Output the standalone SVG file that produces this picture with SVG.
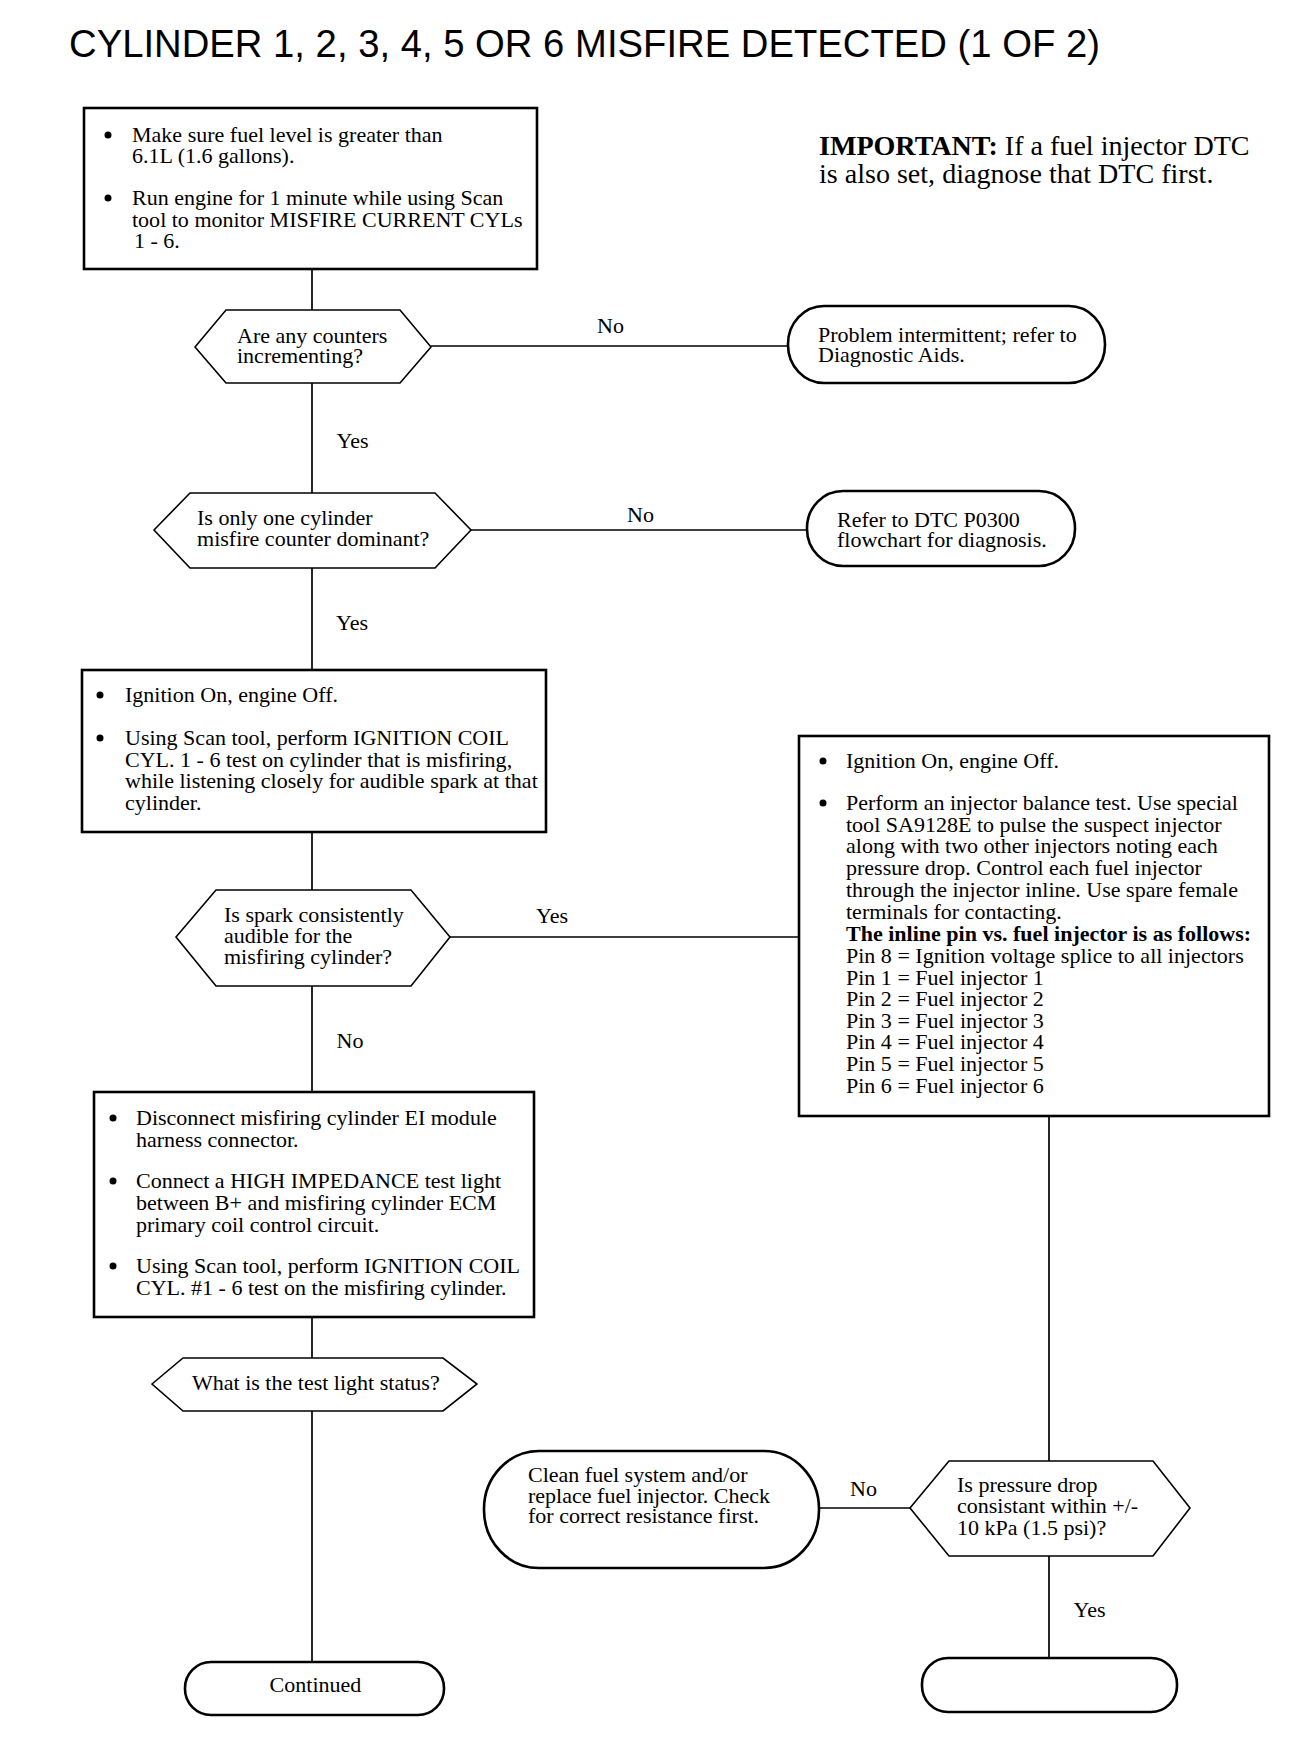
<svg xmlns="http://www.w3.org/2000/svg" width="1312" height="1742" viewBox="0 0 1312 1742">
<style>
.box{fill:#fff;stroke:#000;stroke-width:2.6}
.hex{fill:#fff;stroke:#000;stroke-width:1.6}
.term{fill:#fff;stroke:#000;stroke-width:2.6}
.conn{stroke:#000;stroke-width:1.7;fill:none}
.t{font-family:"Liberation Serif","Times New Roman",serif;font-size:20.5px;fill:#000}
.b{font-weight:bold}
.title{font-family:"Liberation Sans",Arial,sans-serif;font-size:39px;fill:#000}
.imp{font-family:"Liberation Serif","Times New Roman",serif;font-size:27px;fill:#000}
.dot{fill:#000}
</style>
<rect width="1312" height="1742" fill="#fff"/>
<text class="title" x="69" y="57" textLength="1031" lengthAdjust="spacingAndGlyphs">CYLINDER 1, 2, 3, 4, 5 OR 6 MISFIRE DETECTED (1 OF 2)</text>
<g id="important">
<g transform="scale(1.04 1)">
<text class="imp" x="787.5" y="155"><tspan font-weight="bold">IMPORTANT:</tspan> If a fuel injector DTC</text>
<text class="imp" x="787.5" y="183">is also set, diagnose that DTC first.</text>
</g>
</g>
<g id="connectors">
<line class="conn" x1="312" y1="269" x2="312" y2="310"/>
<line class="conn" x1="431" y1="346" x2="788" y2="346"/>
<line class="conn" x1="312" y1="383" x2="312" y2="493"/>
<line class="conn" x1="471" y1="530" x2="807" y2="530"/>
<line class="conn" x1="312" y1="568" x2="312" y2="670"/>
<line class="conn" x1="312" y1="832" x2="312" y2="890"/>
<line class="conn" x1="450" y1="937" x2="799" y2="937"/>
<line class="conn" x1="312" y1="986" x2="312" y2="1092"/>
<line class="conn" x1="312" y1="1317" x2="312" y2="1358"/>
<line class="conn" x1="312" y1="1411" x2="312" y2="1662"/>
<line class="conn" x1="1049" y1="1116" x2="1049" y2="1461"/>
<line class="conn" x1="910" y1="1508" x2="819" y2="1508"/>
<line class="conn" x1="1049" y1="1556" x2="1049" y2="1658"/>
<g transform="scale(1.075 1)">
<text class="t" x="555.35" y="333">No</text>
<text class="t" x="313.02" y="448">Yes</text>
<text class="t" x="583.26" y="522">No</text>
<text class="t" x="312.56" y="630">Yes</text>
<text class="t" x="498.6" y="923">Yes</text>
<text class="t" x="313.02" y="1048">No</text>
<text class="t" x="790.7" y="1496">No</text>
<text class="t" x="998.6" y="1617">Yes</text>
</g>
</g>
<g id="box1">
<rect class="box" x="84" y="108" width="453" height="161"/>
<circle class="dot" cx="108" cy="135" r="3.5"/>
<circle class="dot" cx="108" cy="198" r="3.5"/>
<g transform="scale(1.075 1)">
<text class="t" x="122.79" y="142">Make sure fuel level is greater than</text>
<text class="t" x="122.79" y="163">6.1L (1.6 gallons).</text>
<text class="t" x="122.79" y="205">Run engine for 1 minute while using Scan</text>
<text class="t" x="122.79" y="227">tool to monitor MISFIRE CURRENT CYLs</text>
<text class="t" x="124.65" y="248">1 - 6.</text>
</g>
</g>
<g id="hex1">
<polygon class="hex" points="195,347 226,310 400,310 431,347 400,383 226,383"/>
<g transform="scale(1.075 1)">
<text class="t" x="220.47" y="343">Are any counters</text>
<text class="t" x="220.47" y="363">incrementing?</text>
</g>
</g>
<g id="term1">
<rect class="term" x="788" y="306" width="317" height="77" rx="36" ry="38"/>
<g transform="scale(1.075 1)">
<text class="t" x="760.93" y="342">Problem intermittent; refer to</text>
<text class="t" x="760.93" y="362">Diagnostic Aids.</text>
</g>
</g>
<g id="hex2">
<polygon class="hex" points="154,530 190,493 435,493 471,530 435,568 190,568"/>
<g transform="scale(1.075 1)">
<text class="t" x="183.26" y="525">Is only one cylinder</text>
<text class="t" x="183.26" y="546">misfire counter dominant?</text>
</g>
</g>
<g id="term2">
<rect class="term" x="807" y="491" width="268" height="75" rx="36" ry="37"/>
<g transform="scale(1.075 1)">
<text class="t" x="778.6" y="527">Refer to DTC P0300</text>
<text class="t" x="778.6" y="547">flowchart for diagnosis.</text>
</g>
</g>
<g id="box2">
<rect class="box" x="82" y="670" width="464" height="162"/>
<circle class="dot" cx="100" cy="695" r="3.5"/>
<circle class="dot" cx="100" cy="738" r="3.5"/>
<g transform="scale(1.075 1)">
<text class="t" x="116.28" y="702">Ignition On, engine Off.</text>
<text class="t" x="116.28" y="745">Using Scan tool, perform IGNITION COIL</text>
<text class="t" x="116.28" y="767">CYL.  1 - 6 test on cylinder that is misfiring,</text>
<text class="t" x="116.28" y="788">while listening closely for audible spark at that</text>
<text class="t" x="116.28" y="810">cylinder.</text>
</g>
</g>
<g id="hex3">
<polygon class="hex" points="176,937 216,890 411,890 450,937 411,986 216,986"/>
<g transform="scale(1.075 1)">
<text class="t" x="208.37" y="922">Is spark consistently</text>
<text class="t" x="208.37" y="943">audible for the</text>
<text class="t" x="208.37" y="964">misfiring cylinder?</text>
</g>
</g>
<g id="box3">
<rect class="box" x="799" y="736" width="470" height="380"/>
<circle class="dot" cx="823" cy="761" r="3.5"/>
<circle class="dot" cx="823" cy="803" r="3.5"/>
<g transform="scale(1.075 1)">
<text class="t" x="786.98" y="768">Ignition On, engine Off.</text>
<text class="t" x="786.98" y="810">Perform an injector balance test.  Use special</text>
<text class="t" x="786.98" y="832">tool SA9128E to pulse the suspect injector</text>
<text class="t" x="786.98" y="853">along with two other injectors noting each</text>
<text class="t" x="786.98" y="875">pressure drop. Control each fuel injector</text>
<text class="t" x="786.98" y="897">through the injector inline.  Use spare female</text>
<text class="t" x="786.98" y="919">terminals for contacting.</text>
<text class="t b" x="786.98" y="941">The inline pin vs. fuel injector is as follows:</text>
<text class="t" x="786.98" y="963">Pin 8 = Ignition voltage splice to all injectors</text>
<text class="t" x="786.98" y="985">Pin 1 = Fuel injector 1</text>
<text class="t" x="786.98" y="1006">Pin 2 = Fuel injector 2</text>
<text class="t" x="786.98" y="1028">Pin 3 = Fuel injector 3</text>
<text class="t" x="786.98" y="1049">Pin 4 = Fuel injector 4</text>
<text class="t" x="786.98" y="1071">Pin 5 = Fuel injector 5</text>
<text class="t" x="786.98" y="1093">Pin 6 = Fuel injector 6</text>
</g>
</g>
<g id="box4">
<rect class="box" x="94" y="1092" width="440" height="225"/>
<circle class="dot" cx="113" cy="1118" r="3.5"/>
<circle class="dot" cx="113" cy="1181" r="3.5"/>
<circle class="dot" cx="113" cy="1266" r="3.5"/>
<g transform="scale(1.075 1)">
<text class="t" x="126.51" y="1125">Disconnect misfiring cylinder EI module</text>
<text class="t" x="126.51" y="1147">harness connector.</text>
<text class="t" x="126.51" y="1188">Connect a HIGH IMPEDANCE test light</text>
<text class="t" x="126.51" y="1210">between B+ and misfiring cylinder ECM</text>
<text class="t" x="126.51" y="1232">primary coil control circuit.</text>
<text class="t" x="126.51" y="1273">Using Scan tool, perform IGNITION COIL</text>
<text class="t" x="126.51" y="1295">CYL.  #1 - 6 test on the misfiring cylinder.</text>
</g>
</g>
<g id="hex4">
<polygon class="hex" points="152,1384 183,1358 443,1358 477,1384 443,1411 183,1411"/>
<g transform="scale(1.075 1)">
<text class="t" x="178.6" y="1390">What is the test light status?</text>
</g>
</g>
<g id="term3">
<rect class="term" x="484" y="1451" width="335" height="117" rx="55" ry="58"/>
<g transform="scale(1.075 1)">
<text class="t" x="491.16" y="1482">Clean fuel system and/or</text>
<text class="t" x="491.16" y="1503">replace fuel injector.  Check</text>
<text class="t" x="491.16" y="1523">for correct resistance first.</text>
</g>
</g>
<g id="hex5">
<polygon class="hex" points="910,1508 949,1461 1153,1461 1190,1508 1153,1556 949,1556"/>
<g transform="scale(1.075 1)">
<text class="t" x="890.23" y="1492">Is pressure drop</text>
<text class="t" x="890.23" y="1513">consistant within +/-</text>
<text class="t" x="890.23" y="1535">10 kPa (1.5 psi)?</text>
</g>
</g>
<g id="term-continued">
<rect class="term" x="185" y="1662" width="259" height="53" rx="26" ry="26"/>
<g transform="scale(1.075 1)">
<text class="t" x="293.49" y="1692" text-anchor="middle">Continued</text>
</g>
</g>
<g id="term4">
<rect class="term" x="922" y="1658" width="255" height="54" rx="26" ry="26"/>
</g>
</svg>
